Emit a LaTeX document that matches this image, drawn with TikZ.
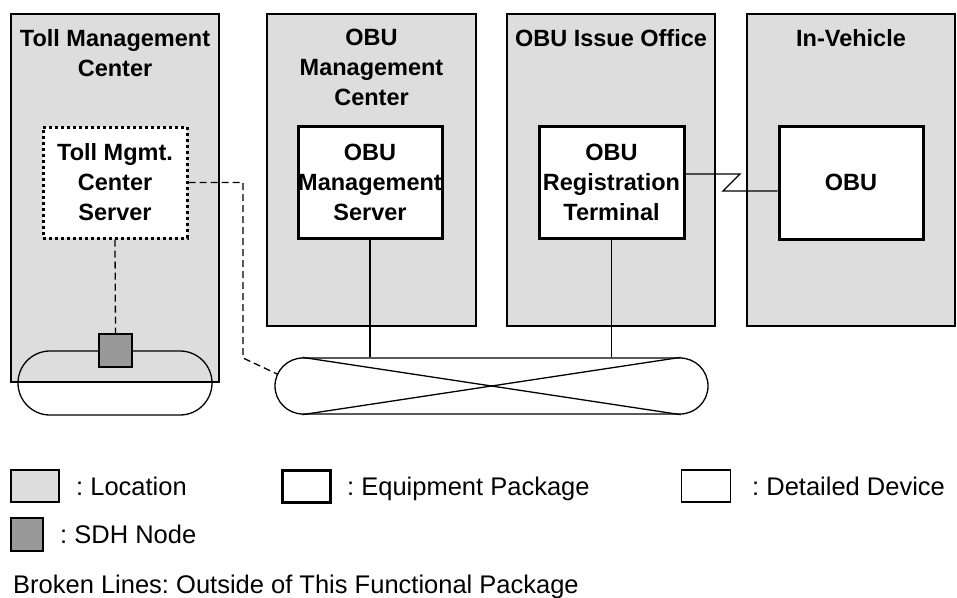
\documentclass[tikz,border=0pt]{standalone}
\usepackage{fontspec}
\setmainfont{Liberation Sans}
\usetikzlibrary{calc}
\frenchspacing
\definecolor{locgray}{HTML}{DDDDDD}
\definecolor{sdhgray}{HTML}{999999}
\tikzset{
  location/.style={draw=black, line width=1.3pt, fill=locgray, inner sep=0pt},
  equippkg/.style={draw=black, line width=3pt, fill=white, inner sep=0pt,
    align=center, font=\bfseries\fontsize{23.5}{30}\selectfont},
  outsidepkg/.style={draw=black, line width=3pt, dash pattern=on 3pt off 3pt,
    fill=white, inner sep=0pt, align=center,
    font=\bfseries\fontsize{23.5}{30}\selectfont},
  sdhnode/.style={draw=black, line width=1.3pt, fill=sdhgray, inner sep=0pt},
  ring/.style={draw=black, line width=1.3pt, inner sep=0pt},
  loctitle/.style={anchor=north, inner sep=0pt, align=center,
    font=\bfseries\fontsize{23.5}{30}\selectfont},
  link/.style={draw=black, line width=1.3pt},
  brokenlink/.style={draw=black, line width=1.3pt, dash pattern=on 7pt off 4pt},
  legendtext/.style={anchor=base west, inner sep=0pt,
    font=\fontsize{25.5}{30}\selectfont},
}
\begin{document}
\begin{tikzpicture}[x=1pt, y=-1pt]
\useasboundingbox (0,0) rectangle (957,597);

% locations
\node[location, minimum width=208pt, minimum height=368pt] (tmc)   at (115,198) {};
\node[location, minimum width=209pt, minimum height=312pt] (obumc) at (371.5,170) {};
\node[location, minimum width=208pt, minimum height=312pt] (issue) at (611,170) {};
\node[location, minimum width=208pt, minimum height=312pt] (veh)   at (851,170) {};

\node[loctitle] (tmcT)   at (115,29)   {Toll Management\\Center};
\node[loctitle] (obumcT) at (371.5,29) {OBU\\Management\\Center};
\node[loctitle] (issueT) at (611,29)   {OBU Issue Office};
\node[loctitle] (vehT)   at (851,29)   {In-Vehicle};

% equipment packages
\node[outsidepkg, minimum width=144pt, minimum height=111pt] (tmcs) at (115,182.5)
  {Toll Mgmt.\\Center\\Server};
\node[equippkg, minimum width=144pt, minimum height=112pt] (obums) at (370,182)
  {OBU\\Management\\Server};
\node[equippkg, minimum width=145pt, minimum height=112pt] (obureg) at (611.5,182)
  {OBU\\Registration\\Terminal};
\node[equippkg, minimum width=144pt, minimum height=113pt] (obu) at (851,182.5)
  {OBU};

% SDH ring in the toll management center
\node[ring, rounded corners=32pt, minimum width=194pt, minimum height=64pt] (tring) at (115,383) {};
\node[sdhnode, minimum width=33pt, minimum height=33pt] (sdh) at (115.5,350.5) {};

% network
\node[ring, rounded corners=28pt, minimum width=433pt, minimum height=56pt] (net) at (491.5,386) {};
\coordinate (netTL) at ($(net.north west)+(28,0)$);
\coordinate (netBL) at ($(net.south west)+(28,0)$);
\coordinate (netTR) at ($(net.north east)+(-28,0)$);
\coordinate (netBR) at ($(net.south east)+(-28,0)$);
\draw[link] (netTL) -- (netBR);
\draw[link] (netBL) -- (netTR);

% connections
\draw[link] (obums.south) -- (obums.south |- net.north);
\draw[link] (obureg.south) -- (obureg.south |- net.north);

\coordinate (zA) at (740,174);
\coordinate (zB) at (723,191);
\draw[link] (obureg.east |- zA) -- (zA) -- (zB) -- (zB -| obu.west);

\draw[brokenlink] (tmcs.south) -- (sdh.north);
\coordinate (bendA) at (243,182.5);
\coordinate (bendB) at (243,358);
\coordinate (netTouch) at (277.6,374.2);
\draw[brokenlink] (tmcs.east) -- (bendA) -- (bendB) -- (netTouch);

% legend
\node[location, minimum width=48pt, minimum height=32pt] (legLoc) at (35,486) {};
\node[legendtext] (legLocT) at (76,495) {: Location};
\node[draw=black, line width=3pt, fill=white, minimum width=48pt, minimum height=32pt, inner sep=0pt] (legEq) at (306.5,486) {};
\node[legendtext] (legEqT) at (347,495) {: Equipment Package};
\node[draw=black, line width=1.3pt, fill=white, minimum width=49pt, minimum height=32pt, inner sep=0pt] (legDev) at (706,486) {};
\node[legendtext] (legDevT) at (752,495) {: Detailed Device};
\node[sdhnode, minimum width=32pt, minimum height=33pt] (legSdh) at (27,534.5) {};
\node[legendtext] (legSdhT) at (60,543.5) {: SDH Node};
\node[legendtext] (legBroken) at (13,593) {Broken Lines: Outside of This Functional Package};
\end{tikzpicture}
\end{document}
